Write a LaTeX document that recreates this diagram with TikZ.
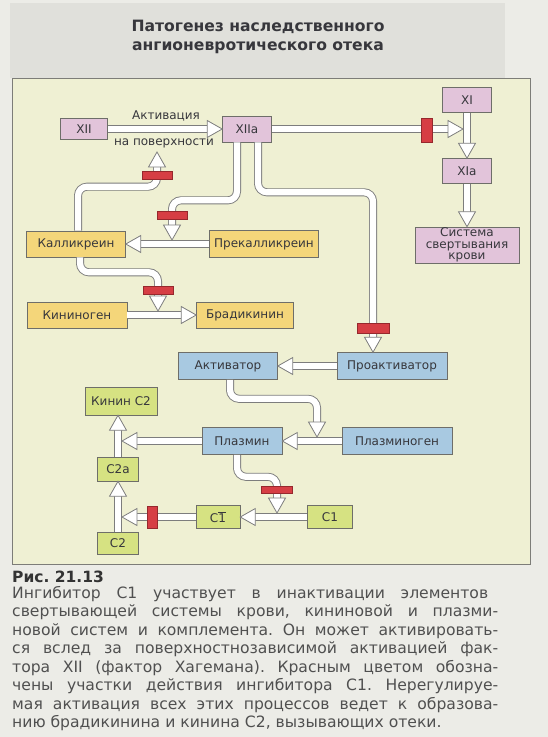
\documentclass[tikz,border=0pt]{standalone}
\usepackage{fontspec}
\usepackage{graphicx}
\setmainfont{DejaVu Sans}
\usetikzlibrary{decorations.markings}
\definecolor{pagegray}{RGB}{236,236,231}
\definecolor{bandgray}{RGB}{224,224,219}
\definecolor{framefill}{RGB}{239,240,211}
\definecolor{framegray}{RGB}{125,125,120}
\definecolor{pinkfill}{RGB}{226,196,218}
\definecolor{yellowfill}{RGB}{244,214,122}
\definecolor{bluefill}{RGB}{168,201,225}
\definecolor{greenfill}{RGB}{214,226,130}
\definecolor{redfill}{RGB}{214,62,68}
\definecolor{redline}{RGB}{150,40,45}
\definecolor{tubegray}{RGB}{125,125,125}
\definecolor{boxline}{RGB}{110,110,105}
\definecolor{textgray}{RGB}{55,55,60}
\definecolor{capgray}{RGB}{80,80,80}
\frenchspacing
\begin{document}
\begin{tikzpicture}[x=1pt,y=-1pt]
        \tikzstyle{box}=[draw=boxline,line width=0.6pt,text=textgray,inner sep=0pt,font=\fontsize{12}{14}\selectfont]
        \tikzstyle{pinkbox}=[box,fill=pinkfill]
        \tikzstyle{yellowbox}=[box,fill=yellowfill]
        \tikzstyle{bluebox}=[box,fill=bluefill]
        \tikzstyle{greenbox}=[box,fill=greenfill]
        \tikzstyle{inhib}=[draw=redline,fill=redfill,line width=0.5pt,inner sep=0pt]
        \tikzstyle{flowtext}=[text=textgray,font=\fontsize{12}{14}\selectfont]
        \tikzstyle{tube}=[draw=tubegray,line width=8pt,postaction={draw=white,line width=6.2pt}]
        \tikzstyle{flow}=[tube,shorten >=13pt,postaction={decorate,decoration={markings,mark=at position 1 with {\draw[tubegray,fill=white,line width=0.8pt,shorten >=0pt,sharp corners,line join=miter] (0,0) -- (-15pt,8.5pt) -- (-15pt,-8.5pt) -- cycle;}}}]
        \useasboundingbox (0,0) rectangle (548,737);
        % page, title band, frame
        \fill[pagegray] (0,0) rectangle (548,737);
        \fill[bandgray] (10,3) rectangle (505,78);
        \draw[framegray,fill=framefill,line width=0.8pt] (12,78) rectangle (530,564);
        \node[font=\bfseries\fontsize{15.6}{19}\selectfont,text=textgray,align=center] (title) at (258,37) {Патогенез наследственного\\ангионевротического отека};
        % factors
        \node[pinkbox,minimum width=47pt,minimum height=21pt] (xii) at (84,129) {XII};
        \node[pinkbox,minimum width=49pt,minimum height=26pt] (xiia) at (247,129) {XIIa};
        \node[pinkbox,minimum width=49pt,minimum height=25pt] (xi) at (467,100) {XI};
        \node[pinkbox,minimum width=49pt,minimum height=25pt] (xia) at (467,171) {XIa};
        \node[pinkbox,minimum width=104pt,minimum height=36pt,align=center,font=\fontsize{12}{11.5}\selectfont] (clot) at (467,245) {Система\\свертывания\\крови};
        \node[yellowbox,minimum width=99pt,minimum height=26pt] (kal) at (76,244) {Калликреин};
        \node[yellowbox,minimum width=109pt,minimum height=27pt] (prekal) at (264,244) {Прекалликреин};
        \node[yellowbox,minimum width=100pt,minimum height=26pt] (kinog) at (77,315) {Кининоген};
        \node[yellowbox,minimum width=97pt,minimum height=26pt] (brad) at (245,315) {Брадикинин};
        \node[bluebox,minimum width=99pt,minimum height=27pt] (act) at (228,366) {Активатор};
        \node[bluebox,minimum width=110pt,minimum height=27pt] (proact) at (392,366) {Проактиватор};
        \node[bluebox,minimum width=80pt,minimum height=27pt] (plasmin) at (242,441) {Плазмин};
        \node[bluebox,minimum width=110pt,minimum height=27pt] (plasmgn) at (397,441) {Плазминоген};
        \node[greenbox,minimum width=72pt,minimum height=28pt] (kinc) at (121,401) {Кинин C2};
        \node[greenbox,minimum width=41pt,minimum height=24pt] (ctwoa) at (118,469) {C2a};
        \node[greenbox,minimum width=41pt,minimum height=22pt] (ctwo) at (118,543) {C2};
        \node[greenbox,minimum width=44pt,minimum height=23pt] (conebar) at (218,517) {C$\overline{\mbox{1}}$};
        \node[greenbox,minimum width=45pt,minimum height=23pt] (cone) at (330,517) {C1};
        \node[flowtext] (actlbl) at (166,116) {Активация};
        \node[flowtext] (surflbl) at (164,143) {на поверхности};
        % where arrows meet other arrows
        \coordinate (jxii) at (157,152);
        \coordinate (jkal) at (172,240);
        \coordinate (jxi) at (463,129);
        \coordinate (jbrad) at (158,311);
        \coordinate (jplm) at (317,437);
        \coordinate (jkinc) at (122,441);
        \coordinate (jcone) at (277,513);
        \coordinate (jctwo) at (122,517);
        % arrows
        \draw[flow] (xii.east) -- (xii.east -| xiia.west);
        \draw[flow,rounded corners=9pt] ([xshift=2pt]kal.north) -- ++(0,-44) -| (jxii);
        \draw[flow,rounded corners=9pt] ([xshift=-10pt]xiia.south) -- ++(0,58) -| (jkal);
        \draw[flow] (prekal.west) -- (kal.east);
        \draw[flow,rounded corners=9pt] ([xshift=11pt]xiia.south) -- ++(0,50) -| ([xshift=-19pt]proact.north);
        \draw[flow] (xiia.east) -- (jxi);
        \draw[flow] (xi.south) -- (xia.north);
        \draw[flow] (xia.south) -- (clot.north);
        \draw[flow,rounded corners=9pt] ([xshift=4pt]kal.south) -- ++(0,15) -| (jbrad);
        \draw[flow] (kinog.east) -- (brad.west);
        \draw[flow] (proact.west) -- (act.east);
        \draw[flow,rounded corners=9pt] ([xshift=2pt]act.south) -- ++(0,19) -| (jplm);
        \draw[flow] (plasmgn.west) -- (plasmin.east);
        \draw[flow] (plasmin.west) -- (jkinc);
        \draw[flow] (ctwoa.north) -- (ctwoa.north |- kinc.south);
        \draw[flow] (ctwo.north) -- (ctwoa.south);
        \draw[flow,rounded corners=9pt] ([xshift=-5pt]plasmin.south) -- ++(0,22) -| (jcone);
        \draw[flow] (cone.west) -- (conebar.east);
        \draw[flow] (conebar.west) -- (jctwo);
        % C1 inhibitor sites
        \node[inhib,minimum width=30pt,minimum height=8pt] (inh1) at (157,175) {};
        \node[inhib,minimum width=30pt,minimum height=8pt] (inh2) at (172,215) {};
        \node[inhib,minimum width=32pt,minimum height=10pt] (inh3) at (373,328) {};
        \node[inhib,minimum width=11pt,minimum height=24pt] (inh4) at (427,130) {};
        \node[inhib,minimum width=30pt,minimum height=8pt] (inh5) at (158,290) {};
        \node[inhib,minimum width=31pt,minimum height=7pt] (inh6) at (277,490) {};
        \node[inhib,minimum width=10pt,minimum height=22pt] (inh7) at (152,517) {};
        % caption
        \node[anchor=west,font=\bfseries\fontsize{15.5}{18}\selectfont,text=black!80,inner sep=0pt] (fig) at (12,577) {Рис. 21.13};
        \node[anchor=north west,align=left,font=\fontsize{15.6}{18.5}\selectfont,text=capgray,inner sep=0pt] (caption) at (12,586) {\makebox[476pt][s]{Ингибитор C1 участвует в инактивации элементов}\\
          \makebox[486pt][s]{свертывающей системы крови, кининовой и плазми-}\\
          \makebox[486pt][s]{новой систем и комплемента. Он может активировать-}\\
          \makebox[486pt][s]{ся вслед за поверхностнозависимой активацией фак-}\\
          \makebox[486pt][s]{тора XII (фактор Хагемана). Красным цветом обозна-}\\
          \makebox[486pt][s]{чены участки действия ингибитора C1. Нерегулируе-}\\
          \makebox[486pt][s]{мая активация всех этих процессов ведет к образова-}\\
          нию брадикинина и кинина C2, вызывающих отеки.};
\end{tikzpicture}
\end{document}
